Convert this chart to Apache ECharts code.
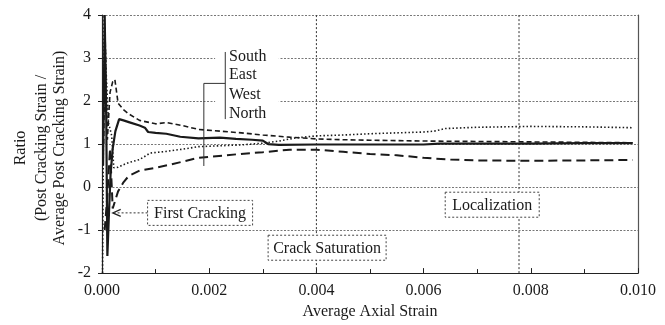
<!DOCTYPE html>
<html>
<head>
<meta charset="utf-8">
<script src="https://cdn.jsdelivr.net/npm/echarts@6/dist/echarts.min.js"></script>
<style>html,body{margin:0;padding:0;background:#fff;}#c{width:665px;height:325px;}</style>
</head>
<body>
<div id="c"></div>
<script>
// ---- data ----
var seriesNames = ['South', 'East', 'West', 'North'];
var xTickLabels = ['0.000', '0.002', '0.004', '0.006', '0.008', '0.010'];
var yTickLabels = ['-2', '-1', '0', '1', '2', '3', '4'];

var southX = [0.00002, 0.00005, 0.00008, 0.0001, 0.00013, 0.00016, 0.0002, 0.00025, 0.00032, 0.0004, 0.0005, 0.0007, 0.0008, 0.00086, 0.001, 0.0012, 0.00146, 0.0018, 0.0022, 0.0025, 0.0028, 0.003, 0.0031, 0.0033, 0.004, 0.005, 0.006, 0.0063, 0.007, 0.008, 0.009, 0.0099];
var southY = [0.5, 4.0, 1.5, -1.6, -0.6, 0.3, 0.9, 1.3, 1.58, 1.55, 1.51, 1.43, 1.38, 1.28, 1.26, 1.24, 1.17, 1.13, 1.15, 1.12, 1.10, 1.08, 1.0, 0.98, 0.99, 0.99, 0.99, 1.01, 1.01, 1.01, 1.02, 1.02];

var eastX = [0.00003, 0.00006, 0.0001, 0.00015, 0.0002, 0.00024, 0.0003, 0.0004, 0.0005, 0.0007, 0.001, 0.0012, 0.0015, 0.0018, 0.0022, 0.0026, 0.003, 0.0035, 0.004, 0.0045, 0.005, 0.006, 0.007, 0.008, 0.009, 0.0099];
var eastY = [1.0, 3.4, 1.1, 2.2, 2.45, 2.5, 1.95, 1.8, 1.7, 1.55, 1.47, 1.5, 1.43, 1.34, 1.30, 1.26, 1.21, 1.16, 1.12, 1.10, 1.09, 1.07, 1.06, 1.05, 1.04, 1.03];

var westX = [0.00001, 0.00004, 0.00008, 0.00012, 0.00018, 0.00022, 0.0003, 0.0004, 0.0005, 0.0007, 0.0009, 0.0012, 0.0015, 0.0018, 0.0022, 0.0026, 0.003, 0.0033, 0.0036, 0.004, 0.0045, 0.005, 0.006, 0.0062, 0.0064, 0.007, 0.008, 0.009, 0.0099];
var westY = [-2.0, 4.0, 2.6, 1.5, 1.2, 0.45, 0.46, 0.52, 0.57, 0.64, 0.79, 0.83, 0.88, 0.94, 0.96, 0.98, 1.02, 1.07, 1.14, 1.19, 1.21, 1.24, 1.28, 1.30, 1.36, 1.39, 1.41, 1.40, 1.38];

var northX = [0.00005, 0.0001, 0.00015, 0.0002, 0.0003, 0.0004, 0.0005, 0.0007, 0.001, 0.0013, 0.0018, 0.0025, 0.003, 0.0035, 0.004, 0.0045, 0.005, 0.0055, 0.006, 0.0065, 0.007, 0.008, 0.009, 0.0099];
var northY = [-1.0, -0.2, 0.9, -0.5, -0.1, 0.11, 0.26, 0.38, 0.45, 0.53, 0.68, 0.76, 0.81, 0.87, 0.87, 0.82, 0.77, 0.74, 0.68, 0.64, 0.62, 0.61, 0.62, 0.63];

// stage marker lines (x positions) spanning the y range
var stageLines = [0.004, 0.00778];
var yRange = [-2, 4];
// annotation boxes: text and data-space centre
var annoText = ['First Cracking', 'Crack Saturation', 'Localization'];
var annoX = [0.00183, 0.0042, 0.00728];
var annoY = [-0.6, -1.41, -0.41];
var firstCrackTip = [0.0002, -0.6];

// ---- chart ----
function zip(xs, ys) { return xs.map(function (x, i) { return [x, ys[i]]; }); }
var FONT = '"Liberation Serif","Times New Roman",serif';
var FS = 16;
var INK = '#1a1a1a';

var chart = echarts.init(document.getElementById('c'), null, { renderer: 'canvas' });

var styles = [
  { type: 'solid', width: 2.2 },
  { type: [5, 3], width: 1.6 },
  { type: [1.5, 2.2], width: 1.6 },
  { type: [9, 5], width: 2 }
];
var datasets = [zip(southX, southY), zip(eastX, eastY), zip(westX, westY), zip(northX, northY)];

var series = [];
stageLines.forEach(function (v, i) {
  series.push({
    name: 'stage' + i, type: 'line', data: [[v, yRange[0]], [v, yRange[1]]], symbol: 'none',
    lineStyle: { color: '#333', type: [2, 2], width: 1 }, z: 2, silent: true, animation: false
  });
});
seriesNames.forEach(function (n, i) {
  series.push({
    name: n, type: 'line', data: datasets[i], symbol: 'none', smooth: false,
    lineStyle: { color: INK, width: styles[i].width, type: styles[i].type },
    z: 3, animation: false
  });
});

chart.setOption({
  animation: false,
  backgroundColor: '#fff',
  grid: { left: 102, right: 27, top: 15, bottom: 45 },
  xAxis: {
    type: 'value', min: 0, max: 0.01, interval: 0.002,
    name: 'Average Axial Strain', nameLocation: 'middle', nameGap: 30,
    nameTextStyle: { fontFamily: FONT, fontSize: FS, color: INK },
    axisLine: { show: true, onZero: false, lineStyle: { color: '#222', width: 1.2 } },
    axisTick: { show: true, inside: true, length: 5, lineStyle: { color: '#222' } },
    minorTick: { show: true, splitNumber: 2, length: 4, lineStyle: { color: '#222' } },
    splitLine: { show: false },
    axisLabel: {
      fontFamily: FONT, fontSize: FS, color: INK, margin: 10,
      formatter: function (v) { return xTickLabels[Math.round(v / 0.002)]; }
    }
  },
  yAxis: [{
    type: 'value', min: -2, max: 4, interval: 1,
    axisLine: { show: true, onZero: false, lineStyle: { color: '#222', width: 1.2 } },
    axisTick: { show: true, length: 4, lineStyle: { color: '#222' } },
    splitLine: { show: true, lineStyle: { color: '#777', type: [2, 1.5], width: 1 } },
    axisLabel: {
      fontFamily: FONT, fontSize: FS, color: INK, margin: 11,
      formatter: function (v) { return yTickLabels[Math.round(v + 2)]; }
    }
  }, {
    type: 'value', min: -2, max: 4, interval: 1, position: 'right',
    axisLine: { show: true, onZero: false, lineStyle: { color: '#555', width: 1.2 } },
    axisTick: { show: false }, axisLabel: { show: false }, splitLine: { show: false }
  }],
  series: series
});

function px(p) { return chart.convertToPixel({ gridIndex: 0 }, p); }

var g = [];
// y axis title, three rotated lines
var yTitle = ['Ratio', '(Post Cracking Strain /', 'Average Post Cracking Strain)'];
var yTitleX = [21, 42, 60];
yTitle.forEach(function (t, i) {
  g.push({
    type: 'text', x: yTitleX[i], y: 148, rotation: Math.PI / 2,
    style: { text: t, font: FS + 'px ' + FONT, fill: INK, align: 'center', verticalAlign: 'middle' },
    z: 20
  });
});

// legend block (labels with bracket and leader line)
var legX = 0.00237, legY = [3.03, 2.6, 2.14, 1.71];
var bgA = px([0.00211, 3.2]), bgB = px([0.0033, 1.5]);
g.push({ type: 'rect', shape: { x: bgA[0], y: bgA[1], width: bgB[0] - bgA[0], height: bgB[1] - bgA[1] }, style: { fill: '#fff' }, z: 10 });
seriesNames.forEach(function (n, i) {
  var p = px([legX, legY[i]]);
  g.push({ type: 'text', x: p[0], y: p[1], style: { text: n, font: FS + 'px ' + FONT, fill: INK, align: 'left', verticalAlign: 'middle' }, z: 12 });
});
var b1 = px([0.0023, 3.14]), b2 = px([0.0023, 1.58]);
g.push({ type: 'line', shape: { x1: b1[0], y1: b1[1], x2: b2[0], y2: b2[1] }, style: { stroke: '#333', lineWidth: 1 }, z: 12 });
var l1 = px([0.0019, 2.41]), l2 = px([0.0023, 2.41]), l3 = px([0.0019, 0.49]);
g.push({ type: 'line', shape: { x1: l1[0], y1: l1[1], x2: l2[0], y2: l2[1] }, style: { stroke: '#333', lineWidth: 1 }, z: 12 });
g.push({ type: 'line', shape: { x1: l1[0], y1: l1[1], x2: l3[0], y2: l3[1] }, style: { stroke: '#333', lineWidth: 1 }, z: 12 });

// annotation boxes
var boxW = [105, 118, 94], boxH = 25;
annoText.forEach(function (t, i) {
  var c = px([annoX[i], annoY[i]]);
  g.push({ type: 'rect', shape: { x: c[0] - boxW[i] / 2, y: c[1] - boxH / 2, width: boxW[i], height: boxH },
    style: { fill: '#fff', stroke: '#444', lineWidth: 1, lineDash: [2, 2] }, z: 14 });
  g.push({ type: 'text', x: c[0], y: c[1] + 1, style: { text: t, font: FS + 'px ' + FONT, fill: INK, align: 'center', verticalAlign: 'middle' }, z: 15 });
});
// first cracking arrow
var fc = px([annoX[0], annoY[0]]);
var tip = px(firstCrackTip);
var startX = fc[0] - boxW[0] / 2;
g.push({ type: 'line', shape: { x1: startX, y1: tip[1], x2: tip[0] + 2, y2: tip[1] }, style: { stroke: '#333', lineWidth: 1, lineDash: [2, 2] }, z: 14 });
g.push({ type: 'polyline', shape: { points: [[tip[0] + 8, tip[1] - 3.5], [tip[0], tip[1]], [tip[0] + 8, tip[1] + 3.5]] }, style: { stroke: '#222', lineWidth: 1.2, fill: null }, z: 14 });

chart.setOption({ graphic: g });
</script>
</body>
</html>
